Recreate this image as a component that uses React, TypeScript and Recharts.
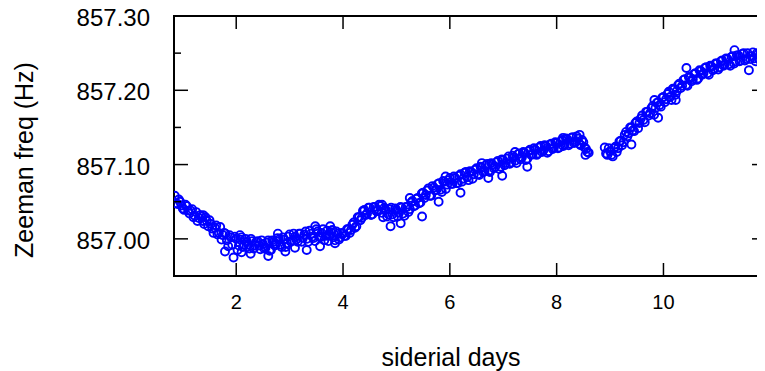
import React from "react";
import { ScatterChart, Scatter, XAxis, YAxis, ReferenceArea } from "recharts";

// first run, before the gap
const days1 = [
  0.85, 0.9, 0.95, 1.0, 1.05, 1.1, 1.15, 1.2, 1.25, 1.3,
  1.35, 1.4, 1.45, 1.5, 1.55, 1.6, 1.65, 1.7, 1.75, 1.8,
  1.85, 1.9, 1.95, 2.0, 2.05, 2.1, 2.15, 2.2, 2.25, 2.3,
  2.35, 2.4, 2.45, 2.5, 2.55, 2.6, 2.65, 2.7, 2.75, 2.8,
  2.85, 2.9, 2.95, 3.0, 3.05, 3.1, 3.15, 3.2, 3.25, 3.3,
  3.35, 3.4, 3.45, 3.5, 3.55, 3.6, 3.65, 3.7, 3.75, 3.8,
  3.85, 3.9, 3.95, 4.0, 4.05, 4.1, 4.15, 4.2, 4.25, 4.3,
  4.35, 4.4, 4.45, 4.5, 4.55, 4.6, 4.65, 4.7, 4.75, 4.8,
  4.85, 4.9, 4.95, 5.0, 5.05, 5.1, 5.15, 5.2, 5.25, 5.3,
  5.35, 5.4, 5.45, 5.5, 5.55, 5.6, 5.65, 5.7, 5.75, 5.8,
  5.85, 5.9, 5.95, 6.0, 6.05, 6.1, 6.15, 6.2, 6.25, 6.3,
  6.35, 6.4, 6.45, 6.5, 6.55, 6.6, 6.65, 6.7, 6.75, 6.8,
  6.85, 6.9, 6.95, 7.0, 7.05, 7.1, 7.15, 7.2, 7.25, 7.3,
  7.35, 7.4, 7.45, 7.5, 7.55, 7.6, 7.65, 7.7, 7.75, 7.8,
  7.85, 7.9, 7.95, 8.0, 8.05, 8.1, 8.15, 8.2, 8.25, 8.3,
  8.35, 8.4, 8.45, 8.5, 8.55, 8.6,
];

const freq1 = [
  857.058, 857.047, 857.05, 857.041, 857.046, 857.038, 857.038, 857.029, 857.036, 857.028,
  857.03, 857.02, 857.024, 857.025, 857.014, 857.015, 857.006, 857.016, 857.005, 857.007,
  856.99, 857.002, 856.975, 857.0, 856.991, 857.002, 856.992, 856.996, 856.987, 856.997,
  856.991, 856.997, 856.986, 856.993, 856.988, 856.998, 856.985, 856.996, 856.993, 856.999,
  856.989, 856.999, 856.994, 857.006, 856.998, 857.003, 856.996, 857.007, 857.001, 857.01,
  856.996, 857.007, 857.001, 857.013, 857.003, 857.008, 856.998, 857.011, 857.004, 857.012,
  856.998, 857.007, 857.002, 857.007, 857.004, 857.013, 857.012, 857.022, 857.017, 857.029,
  857.028, 857.039, 857.034, 857.042, 857.033, 857.043, 857.039, 857.044, 857.029, 857.039,
  857.033, 857.042, 857.029, 857.039, 857.035, 857.042, 857.031, 857.043, 857.04, 857.051,
  857.045, 857.055, 857.049, 857.062, 857.059, 857.068, 857.058, 857.069, 857.066, 857.075,
  857.063, 857.077, 857.073, 857.082, 857.074, 857.082, 857.075, 857.087, 857.081, 857.09,
  857.079, 857.09, 857.087, 857.095, 857.086, 857.096, 857.091, 857.101, 857.09, 857.1,
  857.097, 857.105, 857.097, 857.106, 857.102, 857.111, 857.103, 857.11, 857.102, 857.115,
  857.11, 857.116, 857.108, 857.12, 857.114, 857.12, 857.115, 857.125, 857.119, 857.125,
  857.118, 857.128, 857.123, 857.129, 857.123, 857.133, 857.127, 857.134, 857.128, 857.137,
  857.13, 857.135, 857.126, 857.13, 857.121, 857.116,
];

// first run, readings that fall between the ones above
const days1b = [
  0.875, 0.925, 0.975, 1.025, 1.075, 1.125, 1.175, 1.225, 1.275, 1.325,
  1.375, 1.425, 1.475, 1.525, 1.575, 1.625, 1.675, 1.725, 1.775, 1.825,
  1.875, 1.925, 1.975, 2.025, 2.075, 2.125, 2.175, 2.225, 2.275, 2.325,
  2.375, 2.425, 2.475, 2.525, 2.575, 2.625, 2.675, 2.725, 2.775, 2.825,
  2.875, 2.925, 2.975, 3.025, 3.075, 3.125, 3.175, 3.225, 3.275, 3.325,
  3.375, 3.425, 3.475, 3.525, 3.575, 3.625, 3.675, 3.725, 3.775, 3.825,
  3.875, 3.925, 3.975, 4.025, 4.075, 4.125, 4.175, 4.225, 4.275, 4.325,
  4.375, 4.425, 4.475, 4.525, 4.575, 4.625, 4.675, 4.725, 4.775, 4.825,
  4.875, 4.925, 4.975, 5.025, 5.075, 5.125, 5.175, 5.225, 5.275, 5.325,
  5.375, 5.425, 5.475, 5.525, 5.575, 5.625, 5.675, 5.725, 5.775, 5.825,
  5.875, 5.925, 5.975, 6.025, 6.075, 6.125, 6.175, 6.225, 6.275, 6.325,
  6.375, 6.425, 6.475, 6.525, 6.575, 6.625, 6.675, 6.725, 6.775, 6.825,
  6.875, 6.925, 6.975, 7.025, 7.075, 7.125, 7.175, 7.225, 7.275, 7.325,
  7.375, 7.425, 7.475, 7.525, 7.575, 7.625, 7.675, 7.725, 7.775, 7.825,
  7.875, 7.925, 7.975, 8.025, 8.075, 8.125, 8.175, 8.225, 8.275, 8.325,
  8.375, 8.425, 8.475, 8.525, 8.575,
];

const freq1b = [
  857.048, 857.053, 857.045, 857.039, 857.044, 857.034, 857.04, 857.031, 857.024, 857.032,
  857.024, 857.029, 857.017, 857.02, 857.008, 857.018, 857.008, 856.999, 857.008, 856.998,
  857.005, 856.992, 857.003, 856.985, 856.999, 856.989, 857.0, 856.992, 857.0, 856.987,
  856.996, 856.991, 856.998, 856.987, 856.995, 856.984, 856.998, 856.991, 857.001, 856.992,
  857.002, 856.989, 857.003, 856.996, 857.007, 856.999, 857.007, 856.996, 857.006, 857.0,
  857.011, 857.003, 856.997, 857.01, 857.002, 857.013, 857.004, 856.997, 857.009, 857.002,
  857.01, 856.999, 857.008, 857.004, 857.013, 857.008, 857.019, 857.015, 857.029, 857.025,
  857.038, 857.032, 857.042, 857.032, 857.043, 857.037, 857.046, 857.035, 857.042, 857.03,
  857.04, 857.033, 857.041, 857.03, 857.043, 857.034, 857.043, 857.036, 857.049, 857.044,
  857.054, 857.048, 857.061, 857.055, 857.065, 857.058, 857.071, 857.065, 857.074, 857.066,
  857.078, 857.067, 857.079, 857.074, 857.084, 857.075, 857.085, 857.077, 857.089, 857.083,
  857.091, 857.081, 857.093, 857.087, 857.097, 857.09, 857.099, 857.091, 857.102, 857.095,
  857.103, 857.094, 857.107, 857.099, 857.108, 857.101, 857.112, 857.105, 857.114, 857.107,
  857.117, 857.106, 857.118, 857.113, 857.122, 857.113, 857.123, 857.117, 857.126, 857.116,
  857.127, 857.121, 857.13, 857.122, 857.131, 857.125, 857.135, 857.126, 857.136, 857.129,
  857.138, 857.128, 857.133, 857.123, 857.117,
];

// second run, after the gap
const days2 = [
  8.9, 8.95, 9.0, 9.05, 9.1, 9.15, 9.2, 9.25, 9.3, 9.35,
  9.4, 9.45, 9.5, 9.55, 9.6, 9.65, 9.7, 9.75, 9.8, 9.85,
  9.9, 9.95, 10.0, 10.05, 10.1, 10.15, 10.2, 10.25, 10.3, 10.35,
  10.4, 10.45, 10.5, 10.55, 10.6, 10.65, 10.7, 10.75, 10.8, 10.85,
  10.9, 10.95, 11.0, 11.05, 11.1, 11.15, 11.2, 11.25, 11.3, 11.35,
  11.4, 11.45, 11.5, 11.55, 11.6, 11.65, 11.7, 11.75, 11.8, 11.85,
  11.9,
];

const freq2 = [
  857.123, 857.113, 857.118, 857.111, 857.124, 857.122, 857.132, 857.13, 857.144, 857.142,
  857.15, 857.145, 857.158, 857.156, 857.166, 857.157, 857.171, 857.169, 857.179, 857.176,
  857.184, 857.178, 857.191, 857.188, 857.198, 857.187, 857.201, 857.199, 857.209, 857.206,
  857.215, 857.206, 857.217, 857.215, 857.223, 857.216, 857.226, 857.223, 857.231, 857.221,
  857.232, 857.229, 857.236, 857.231, 857.24, 857.235, 857.242, 857.233, 857.246, 857.239,
  857.247, 857.24, 857.25, 857.242, 857.227, 857.246, 857.243, 857.25, 857.241, 857.249,
  857.241,
];

const days2b = [
  8.925, 8.975, 9.025, 9.075, 9.125, 9.175, 9.225, 9.275, 9.325, 9.375,
  9.425, 9.475, 9.525, 9.575, 9.625, 9.675, 9.725, 9.775, 9.825, 9.875,
  9.925, 9.975, 10.025, 10.075, 10.125, 10.175, 10.225, 10.275, 10.325, 10.375,
  10.425, 10.475, 10.525, 10.575, 10.625, 10.675, 10.725, 10.775, 10.825, 10.875,
  10.925, 10.975, 11.025, 11.075, 11.125, 11.175, 11.225, 11.275, 11.325, 11.375,
  11.425, 11.475, 11.525, 11.575, 11.625, 11.675, 11.725, 11.775, 11.825, 11.875,
];

const freq2b = [
  857.115, 857.122, 857.113, 857.122, 857.117, 857.131, 857.126, 857.14, 857.138, 857.15,
  857.146, 857.156, 857.149, 857.162, 857.16, 857.171, 857.166, 857.176, 857.167, 857.183,
  857.18, 857.19, 857.184, 857.195, 857.191, 857.202, 857.194, 857.207, 857.203, 857.214,
  857.207, 857.218, 857.212, 857.222, 857.214, 857.227, 857.221, 857.23, 857.223, 857.233,
  857.227, 857.236, 857.228, 857.239, 857.233, 857.243, 857.235, 857.245, 857.236, 857.247,
  857.239, 857.249, 857.24, 857.25, 857.242, 857.251, 857.239, 857.249, 857.243, 857.249,
];

// stray readings sitting off the main band
const daysStray = [
  1.38, 1.79, 2.07, 2.1, 2.27, 2.6, 2.78, 2.92, 3.1, 3.32,
  3.48, 3.57, 3.76, 3.85, 4.38, 4.73, 4.89, 5.08, 5.25, 5.48,
  5.79, 5.92, 6.2, 6.6, 6.72, 6.98, 7.22, 7.45, 8.12, 8.43,
  8.54, 9.4, 9.83, 9.9, 10.23, 10.43, 11.33,
];

const freqStray = [
  857.032, 856.983, 857.005, 856.982, 856.98, 856.977, 857.007, 856.983, 856.988, 856.985,
  857.017, 856.99, 857.017, 856.994, 857.037, 857.046, 857.017, 857.021, 857.055, 857.03,
  857.05, 857.084, 857.062, 857.102, 857.082, 857.085, 857.117, 857.097, 857.136, 857.14,
  857.113, 857.127, 857.187, 857.163, 857.187, 857.23, 857.254,
];

const xTicks = [2, 4, 6, 8, 10];
const yMajorTicks = [857.0, 857.1, 857.2, 857.3];
const yMinorTicks = [857.05, 857.15, 857.25];

const X_MIN = 0.835;
const X_MAX = 11.92;
const Y_MIN = 856.95;
const Y_MAX = 857.3;

const CHART_W = 768;
const CHART_H = 371;
const PLOT_W = 592;
const PLOT_H = 260;
const FONT = "'Liberation Sans', Arial, Helvetica, sans-serif";

const toPoints = (days: number[], freq: number[]) =>
  days.map((d, i) => ({ day: d, freq: freq[i] }));

const points = [
  ...toPoints(days1, freq1),
  ...toPoints(days1b, freq1b),
  ...toPoints(days2, freq2),
  ...toPoints(days2b, freq2b),
  ...toPoints(daysStray, freqStray),
];

const yTicks = [...yMajorTicks, ...yMinorTicks].sort((a, b) => a - b);

const XTick = (props: any) => {
  const { x, y, payload } = props;
  return (
    <g>
      <line x1={x} y1={y} x2={x} y2={y - 13} stroke="#000" strokeWidth={1.5} />
      <line x1={x} y1={y - PLOT_H} x2={x} y2={y - PLOT_H + 13} stroke="#000" strokeWidth={1.5} />
      <text x={x} y={y + 33} textAnchor="middle" fontSize={20} fontFamily={FONT} fill="#000">
        {payload.value}
      </text>
    </g>
  );
};

const YTick = (props: any) => {
  const { x, y, payload } = props;
  const major = yMajorTicks.some((t) => Math.abs(t - payload.value) < 1e-6);
  const len = major ? 14 : 7;
  return (
    <g>
      <line x1={x} y1={y} x2={x + len} y2={y} stroke="#000" strokeWidth={1.5} />
      <line x1={x + PLOT_W} y1={y} x2={x + PLOT_W - len} y2={y} stroke="#000" strokeWidth={1.5} />
      {major && (
        <text x={x - 24} y={y + 10} textAnchor="end" fontSize={24} fontFamily={FONT} fill="#000">
          {payload.value.toFixed(2)}
        </text>
      )}
    </g>
  );
};

const Dot = (props: any) => (
  <circle cx={props.cx} cy={props.cy} r={4} fill="none" stroke="#0000ff" strokeWidth={1.9} />
);

// chart is pulled up and left over the body margin so its svg starts at the page corner
export default function App() {
  return (
    <div
      style={{
        position: "relative",
        margin: "-8px 0 0 -8px",
        width: 765,
        height: CHART_H,
        overflow: "hidden",
      }}
    >
      <style>{"body{overflow:hidden}"}</style>
      <ScatterChart width={CHART_W} height={CHART_H} margin={{ top: 16, right: 2, bottom: 0, left: 0 }}>
        <XAxis
          type="number"
          dataKey="day"
          domain={[X_MIN, X_MAX]}
          ticks={xTicks}
          interval={0}
          allowDataOverflow
          axisLine={false}
          tickLine={false}
          tickSize={0}
          tickMargin={0}
          height={95}
          tick={<XTick />}
        />
        <YAxis
          type="number"
          dataKey="freq"
          domain={[Y_MIN, Y_MAX]}
          ticks={yTicks}
          interval={0}
          allowDataOverflow
          axisLine={false}
          tickLine={false}
          tickSize={0}
          tickMargin={0}
          width={174}
          tick={<YTick />}
        />
        <ReferenceArea x1={X_MIN} x2={X_MAX} y1={Y_MIN} y2={Y_MAX} fill="none" stroke="#000" strokeWidth={2} />
        <Scatter data={points} shape={<Dot />} isAnimationActive={false} />
      </ScatterChart>
      <svg
        width={765}
        height={CHART_H}
        style={{ position: "absolute", left: 0, top: 0, pointerEvents: "none" }}
      >
        <text x={451} y={366} textAnchor="middle" fontSize={25} fontFamily={FONT} fill="#000">
          siderial days
        </text>
        <text
          x={33}
          y={160}
          textAnchor="middle"
          fontSize={25}
          fontFamily={FONT}
          fill="#000"
          transform="rotate(-90 33 160)"
        >
          Zeeman freq (Hz)
        </text>
      </svg>
    </div>
  );
}
